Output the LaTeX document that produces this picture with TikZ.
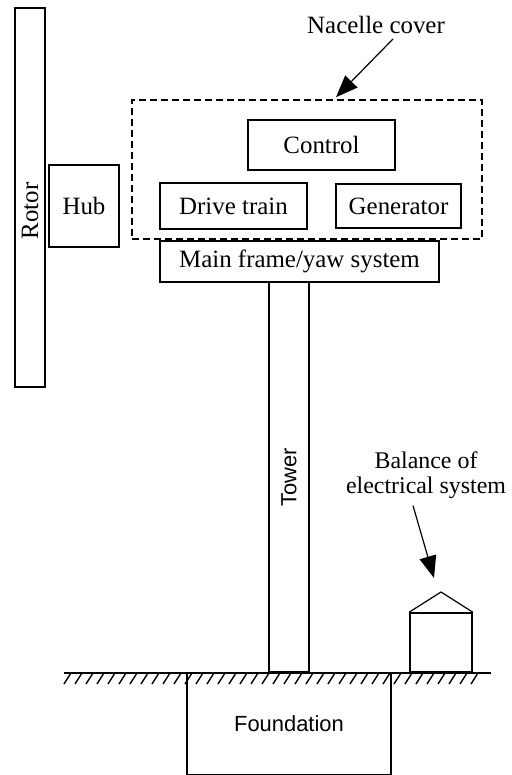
\documentclass[tikz,border=0pt]{standalone}
\usepackage{fontspec}
\setmainfont{Liberation Serif}
\setsansfont{Liberation Sans}
\usetikzlibrary{arrows.meta, positioning}
\tikzset{
    part/.style={
        rectangle, draw=black, line width=1.6bp, inner sep=0pt, text centered, font=\fontsize{25}{25}\selectfont
    },
    sanspart/.style={
        part, font=\sffamily\fontsize{22}{24}\selectfont
    },
    cover/.style={
        rectangle, draw=black, line width=1.6bp, dash pattern=on 7bp off 4bp, inner sep=0pt
    },
    callout/.style={
        align=center, inner sep=0pt, font=\fontsize{25}{25}\selectfont
    },
    arrow/.style={
        line width=1.2bp, -{Triangle[length=22bp, width=17bp]}
    }
}

\begin{document}
\begin{tikzpicture}[x=1bp, y=-1bp]
            \useasboundingbox (0,0) rectangle (512,775);

            % Rotor and hub
            \node[part, minimum width=30bp, minimum height=379bp] (rotor) at (30,197.5) {};
            \node[rotate=90, inner sep=0pt, font=\fontsize{25}{25}\selectfont] (rotortext) at (30,211) {Rotor};
            \node[part, minimum width=70bp, minimum height=82bp] (hub) at (84,206) {Hub};

            % Nacelle
            \node[cover, minimum width=350bp, minimum height=139bp] (nacelle) at (307,169.5) {};
            \node[part, minimum width=147bp, minimum height=50bp] (control) at (321.5,145) {Control};
            \node[part, minimum width=147bp, minimum height=46bp] (drive) at (233.5,206) {Drive train};
            \node[part, minimum width=125bp, minimum height=44bp] (generator) at (398.5,206) {Generator};
            \node[part, minimum width=279bp, minimum height=41bp] (mainframe) at (299.5,261.5) {Main frame/yaw system};

            % Tower
            \node[sanspart, rotate=90, minimum width=390bp, minimum height=40bp] (tower) at (289,477) {Tower};

            % Ground
            \coordinate (groundleft) at (64,673);
            \coordinate (groundright) at (491,673);
            \draw[line width=1.2bp] (groundleft) -- (groundright);
            \foreach \x in {64,75,...,480}
                \draw[line width=1.4bp] (\x,684) -- (\x+7,673);
            \node[sanspart, minimum width=204bp, minimum height=101bp] (foundation) at (289,724) {Foundation};

            % Balance of electrical system
            \node[part, minimum width=62bp, minimum height=59bp] (shed) at (441,642.5) {};
            \coordinate (roof) at (441,592);
            \draw[line width=1.2bp] (shed.north west) -- (roof) -- (shed.north east);

            % Labels
            \node[callout] (coverlabel) at (376,25) {Nacelle cover};
            \node[callout, font=\fontsize{24}{25}\selectfont] (bos) at (426,475) {Balance of\\electrical system};
            \draw[arrow] ([xshift=17bp, yshift=-5bp]coverlabel.south) -- ([xshift=29bp, yshift=2bp]nacelle.north);
            \draw[arrow] ([xshift=-13bp, yshift=-7bp]bos.south) -- ([xshift=-7bp, yshift=14bp]roof);

\end{tikzpicture}
\end{document}
